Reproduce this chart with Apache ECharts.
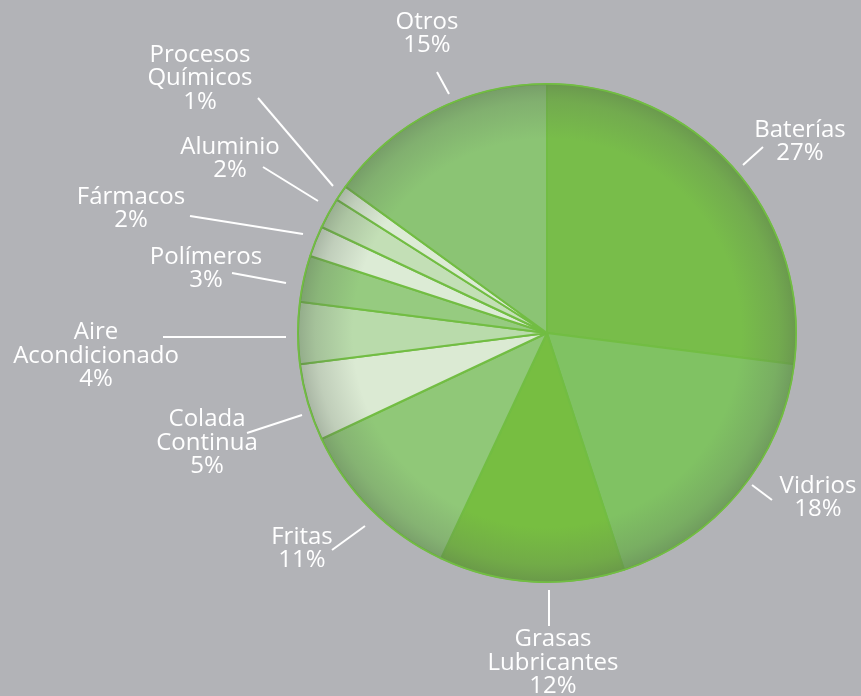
<!DOCTYPE html>
<html>
<head>
<meta charset="utf-8">
<script src="https://cdn.jsdelivr.net/npm/echarts@6/dist/echarts.min.js"></script>
<style>
html,body{margin:0;padding:0;background:#b2b3b7;}
#chart{width:861px;height:696px;}
</style>
</head>
<body>
<div id="chart"></div>
<script>
// ---- data ----
const categories = ['Baterías','Vidrios','Grasas\nLubricantes','Fritas','Colada\nContinua','Aire\nAcondicionado','Polímeros','Fármacos','Aluminio','Procesos\nQuímicos','Otros'];
const shares = [27, 18, 12, 11, 5, 4, 3, 2, 2, 1, 15];

// ---- styling ----
const sliceColors = ['#78bd4a','#80c263','#77be41','#90c878','#dbead3','#b9dbab','#96cb80','#dcebd5','#c3dfb6','#dcebd5','#8bc474'];
const CX = 547, CY = 333, R = 249;

// label anchor (block centre) and leader line for each category
const labelPlacement = [
  {x:800, y:141.5, line:[[743,165],[763,147]]},
  {x:818, y:497.5, line:[[752,485],[772,500]]},
  {x:553, y:663,   line:[[549,590],[549,626]]},
  {x:302, y:548.5, line:[[332,550],[365,526]]},
  {x:207, y:443,   line:[[247,433],[302,415]]},
  {x:96,  y:356,   line:[[163,337],[286,337]]},
  {x:206, y:268.5, line:[[232,273],[286,283]]},
  {x:131, y:208.5, line:[[190,216],[303,234]]},
  {x:230, y:158.5, line:[[263,167],[318,201]]},
  {x:200, y:78.5,  line:[[258,98],[333,186]]},
  {x:427, y:33.5,  line:[[437,72],[449,94]]}
];

const chart = echarts.init(document.getElementById('chart'), null, {renderer:'canvas'});
const data = categories.map((n,i)=>({name:n, value:shares[i], itemStyle:{color:sliceColors[i]}}));

chart.setOption({
  backgroundColor:'#b2b3b7',
  animation:false,
  series:[
    {
      type:'pie',
      center:[CX, CY],
      radius:[0, R],
      startAngle:90,
      clockwise:true,
      data:data,
      itemStyle:{borderColor:'#72bd43', borderWidth:2},
      label:{
        show:true,
        position:'outside',
        formatter:'{b}\n{c}%',
        color:'#ffffff',
        fontFamily:'"Open Sans", sans-serif',
        fontSize:24,
        lineHeight:23.5,
        align:'center',
        overflow:'none'
      },
      labelLine:{show:true, lineStyle:{color:'#ffffff', width:2}},
      labelLayout:function(p){
        const L = labelPlacement[p.dataIndex];
        const a = L.line[0], b = L.line[1];
        return {x:L.x, y:L.y, align:'center', verticalAlign:'middle',
                labelLinePoints:[b, a, a]};
      },
      emphasis:{disabled:true}
    },
    {
      type:'pie',
      center:[CX, CY],
      radius:[0, R],
      silent:true,
      z:3,
      label:{show:false},
      labelLine:{show:false},
      data:[{value:1, itemStyle:{color:{
        type:'radial', x:CX, y:CY, r:R, global:true,
        colorStops:[
          {offset:0, color:'rgba(255,255,255,0)'},
          {offset:0.78, color:'rgba(95,105,95,0)'},
          {offset:0.93, color:'rgba(95,105,95,0.22)'},
          {offset:1, color:'rgba(85,95,85,0.38)'}
        ]}}}],
      itemStyle:{borderColor:'#72bd43', borderWidth:1.5},
      emphasis:{disabled:true}
    }
  ]
});
</script>
</body>
</html>
